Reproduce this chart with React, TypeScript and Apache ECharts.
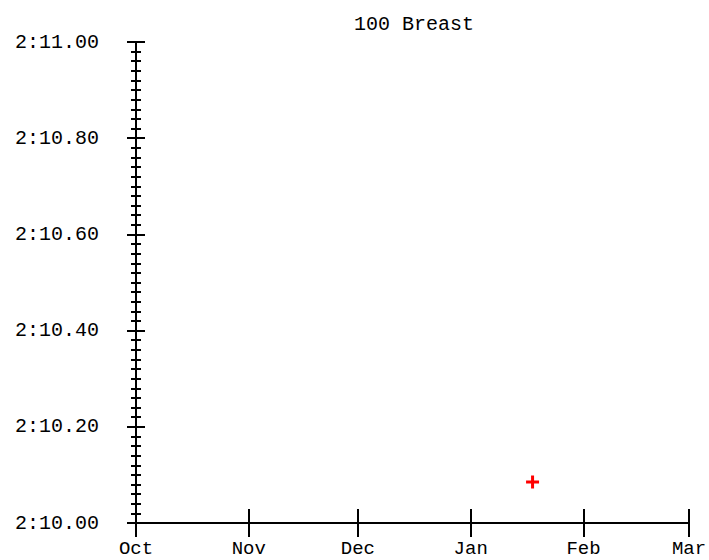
import React, { useEffect, useRef } from "react";
import * as echarts from "echarts";

const title = "100 Breast";
const monthNames = ["Jan", "Feb", "Mar", "Apr", "May", "Jun", "Jul", "Aug", "Sep", "Oct", "Nov", "Dec"];
const xStart = [2023, 9, 1];
const xEnd = [2024, 2, 1];
const swimDates = ["2024-01-18"];
const swimTimes = [130.085];
const yMin = 130;
const yMax = 131;
const yStep = 0.2;

const FONT = "'Courier New', 'Liberation Mono', monospace";

function fmtTime(v: number) {
  const m = Math.floor(v / 60 + 1e-9);
  const s = v - m * 60;
  return `${m}:${s.toFixed(2).padStart(5, "0")}`;
}

export default function App() {
  const ref = useRef<HTMLDivElement>(null);
  useEffect(() => {
    if (!ref.current) return;
    const chart = echarts.init(ref.current, undefined, { renderer: "svg" });
    const minT = new Date(xStart[0], xStart[1], xStart[2]).getTime();
    const maxT = new Date(xEnd[0], xEnd[1], xEnd[2]).getTime();
    const day = 86400000;
    const data = swimDates.map((d, i) => {
      const [y, mo, dd] = d.split("-").map(Number);
      return [new Date(y, mo - 1, dd).getTime(), swimTimes[i]];
    });
    const lineStyle = { color: "#000", width: 2 };
    const xCommon = {
      type: "time" as const,
      min: minT,
      max: maxT,
      position: "bottom" as const,
      minInterval: 28 * day,
      maxInterval: 31 * day,
      splitLine: { show: false },
      axisLine: { show: true, lineStyle },
    };
    const yCommon = {
      type: "value" as const,
      min: yMin,
      max: yMax,
      interval: yStep,
      position: "left" as const,
      splitLine: { show: false },
      axisLine: { show: true, lineStyle },
    };
    chart.setOption({
      animation: false,
      backgroundColor: "#fff",
      title: {
        text: title,
        left: 409,
        textAlign: "center",
        top: 9,
        textStyle: { fontFamily: FONT, fontSize: 20, fontWeight: "normal", color: "#000" },
      },
      grid: { left: 136, right: 20, top: 42, bottom: 37, containLabel: false, outerBoundsMode: "none" },
      xAxis: [
        {
          ...xCommon,
          axisTick: { show: true, inside: false, length: 14, lineStyle },
          axisLabel: {
            show: true,
            margin: 18,
            fontFamily: FONT,
            fontSize: 19,
            lineHeight: 15,
            color: "#000",
            showMinLabel: true,
            showMaxLabel: true,
            formatter: (v: number) => monthNames[new Date(v).getMonth()],
          },
        },
        {
          ...xCommon,
          axisTick: { show: true, inside: true, length: 14, lineStyle },
          axisLabel: { show: false },
        },
      ],
      yAxis: [
        {
          ...yCommon,
          axisTick: { show: true, inside: false, length: 9, lineStyle },
          minorTick: { show: true, splitNumber: 10, length: 5, lineStyle },
          axisLabel: {
            show: true,
            margin: 37,
            fontFamily: FONT,
            fontSize: 20,
            color: "#000",
            formatter: (v: number) => fmtTime(v),
          },
        },
        {
          ...yCommon,
          axisTick: { show: true, inside: true, length: 9, lineStyle },
          minorTick: { show: true, splitNumber: 10, length: 5, lineStyle },
          axisLabel: { show: false },
        },
      ],
      series: [
        {
          type: "scatter",
          xAxisIndex: 0,
          yAxisIndex: 0,
          data,
          symbol: "path://M5,0h3v5h5v3h-5v5h-3v-5h-5v-3h5z",
          symbolSize: 13,
          itemStyle: { color: "#ff0000", opacity: 1 },
        },
      ],
    });
    return () => chart.dispose();
  }, []);
  return (
    <div
      ref={ref}
      style={{ position: "fixed", left: 0, top: 0, width: 709, height: 560 }}
    />
  );
}
